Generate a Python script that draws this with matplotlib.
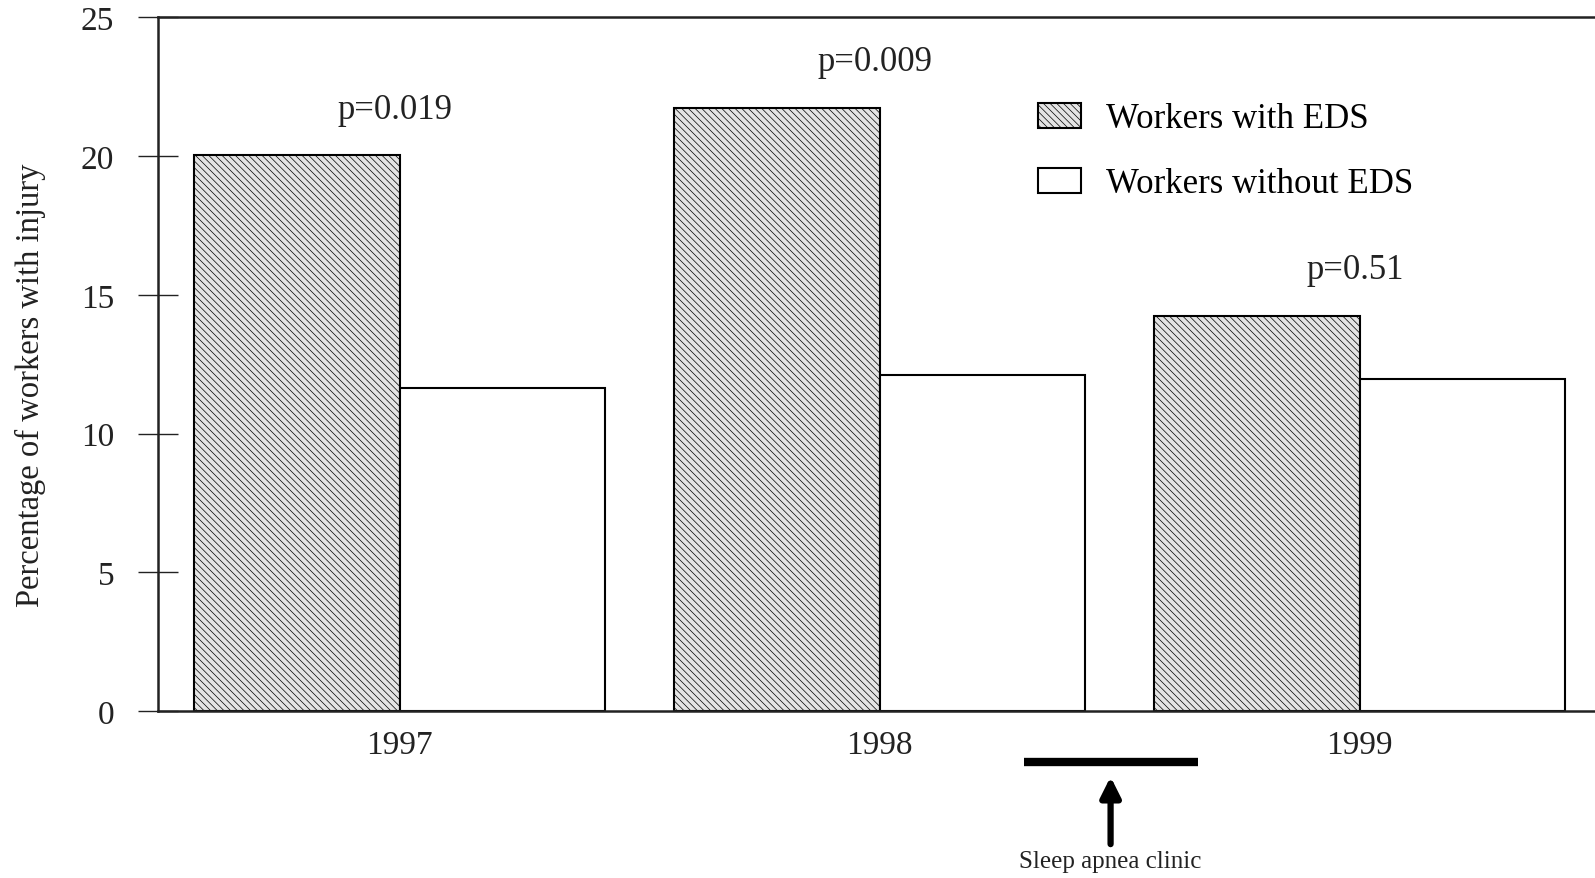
import numpy as np
import matplotlib
matplotlib.use('Agg')
import matplotlib.pyplot as plt

years = ['1997', '1998', '1999']
with_eds = [20.05, 21.75, 14.25]
without_eds = [11.65, 12.1, 11.95]
p_labels = ['p=0.019', 'p=0.009', 'p=0.51']
series_names = ['Workers with EDS', 'Workers without EDS']
note_text = 'Sleep apnea clinic'

plt.rcParams['font.family'] = ['Liberation Serif', 'DejaVu Serif']
plt.rcParams['hatch.linewidth'] = 0.5

fig = plt.figure(figsize=(15.95, 8.79), dpi=100)
ax = fig.add_axes([0.099, 0.19, 0.934, 0.789])

x = np.arange(len(years))
w = 0.428

ax.bar(x - w, with_eds, width=w, align='edge', facecolor='#e4e4e4',
       edgecolor='black', hatch='\\' * 5, linewidth=1.5, label=series_names[0])
ax.bar(x, without_eds, width=w, align='edge', facecolor='white',
       edgecolor='black', linewidth=1.5, label=series_names[1])

# p-values above each group
for i in range(len(years)):
    ax.text(x[i] - 0.01, with_eds[i] + 1.65, p_labels[i], ha='center', va='center',
            fontsize=25, color='#222222')

ax.set_xlim(-0.504, 2.6)
ax.set_ylim(0, 25)
ax.set_yticks([0, 5, 10, 15, 20, 25])
ax.set_xticks(x)
ax.set_xticklabels(years)
ax.tick_params(axis='y', direction='inout', length=29, width=1.0, pad=17,
               labelsize=24, colors='#222222')
ax.tick_params(axis='x', length=0, pad=13, labelsize=24, colors='#222222')

ax.spines['right'].set_visible(False)
for s in ['top', 'left', 'bottom']:
    ax.spines[s].set_linewidth(1.8)
    ax.spines[s].set_color('#222222')

fig.text(30.5 / 1595, 1 - 385.5 / 879, 'Percentage of workers with injury',
         rotation=90, ha='center', va='center', fontsize=23.5, color='#222222')

ax.legend(loc='upper left', bbox_to_anchor=(0.6505, 0.8825),
          bbox_transform=fig.transFigure, frameon=False, fontsize=25,
          handlelength=1.26, handleheight=0.74, handletextpad=0.72,
          labelspacing=0.92, borderpad=0, borderaxespad=0)

# intervention marker below the axis
ax.plot([1.301, 1.664], [-1.84, -1.84], color='black', linewidth=6,
        solid_capstyle='butt', clip_on=False)
ax.annotate('', xy=(1.481, -2.27), xytext=(1.481, -4.9),
            arrowprops=dict(arrowstyle='-|>,head_length=1.2,head_width=0.6',
                            color='black', linewidth=4.5),
            annotation_clip=False)
ax.text(1.481, -5.0, note_text, ha='center', va='top', fontsize=18,
        color='#222222', clip_on=False)

fig.savefig('out.png', dpi=100)
